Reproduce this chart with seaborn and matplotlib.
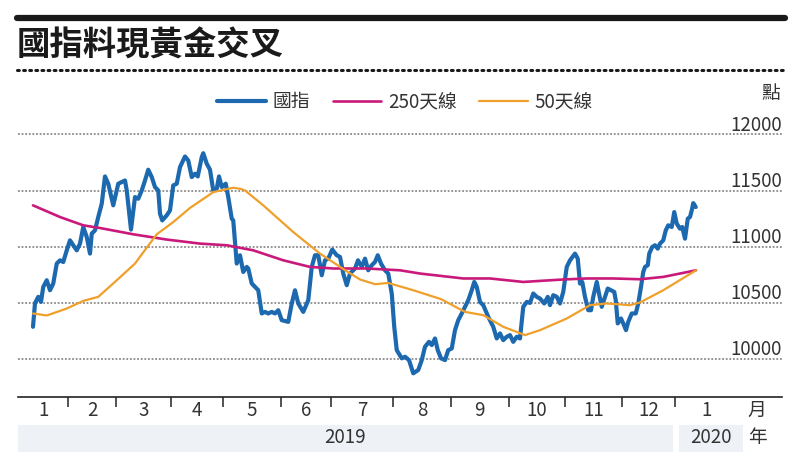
import matplotlib
matplotlib.use("Agg")
import matplotlib.pyplot as plt
import matplotlib.transforms as mtransforms
from matplotlib.lines import Line2D
from matplotlib.patches import Rectangle
import seaborn as sns
import pandas as pd

sns.set_theme(style="white")
plt.rcParams['font.family'] = ['Noto Sans CJK TC', 'DejaVu Sans']

# ---------------- data (trading-day index, index points) ----------------
hsce_day = [0, 0.8, 2.1, 3.2, 4.1, 5.5, 6.8, 8.1, 9.5, 10.8,
            12.1, 13.5, 14.8, 16.1, 17.5, 18.8, 20.1, 21.5, 22.8, 23.5,
            24.8, 26.1, 27.5, 28.8, 30.1, 32.1, 34.1, 36.8, 37.5, 39.2,
            40.8, 42.1, 43.5, 44.8, 46.1, 47.5, 48.8, 50.1, 50.8, 51.7,
            53.5, 54.8, 56.1, 57.5, 58.8, 60.8, 62.1, 63.5, 64.8, 65.9,
            67.5, 68.1, 69.5, 70.8, 72.1, 73.5, 74.4, 75.5, 77.1, 78.1,
            79.5, 80.1, 81.5, 82.8, 84.1, 85.5, 86.1, 87.5, 88.8, 90.1,
            91.5, 92.8, 94.1, 95.5, 96.8, 98.1, 99.5, 102.1, 103.5, 104.8,
            106.1, 108.1, 110.1, 111.5, 112.8, 114.1, 115.5, 116.8, 118.1, 119.7,
            121.5, 122.8, 124.1, 125.5, 126.8, 128.8, 130.0, 131.5, 132.8, 134.1,
            135.5, 136.8, 137.9, 139.2, 140.8, 142.1, 143.5, 144.5, 145.5, 147.5,
            148.8, 150.4, 152.1, 154.1, 155.5, 156.8, 158.4, 159.5, 160.8, 161.9,
            163.2, 164.8, 166.1, 167.5, 168.8, 170.1, 171.5, 174.1, 175.5, 176.5,
            177.5, 178.8, 180.1, 182.1, 184.1, 185.5, 186.8, 188.1, 189.5, 190.8,
            192.1, 193.5, 194.8, 196.1, 197.5, 198.8, 200.1, 201.5, 202.8, 204.5,
            205.9, 206.8, 208.1, 209.5, 210.8, 212.1, 213.5, 214.8, 216.8, 217.9,
            218.8, 219.7, 220.8, 222.1, 223.2, 224.1, 225.5, 226.4, 227.5, 228.8,
            229.9, 231.2, 232.5, 233.1, 233.9, 235.2, 236.1, 237.2, 238.1, 239.5,
            241.1, 242.1, 243.2, 244.1, 244.8, 245.9, 246.5, 247.7, 248.8, 249.9,
            250.8, 252.1, 253.1, 254.1, 255.5, 256.5, 257.5, 258.8, 259.7, 260.8,
            261.9, 262.8, 263.5, 264.1, 265.1]
hsce_val = [10285, 10496, 10552, 10507, 10641, 10700, 10611, 10671, 10849, 10878,
            10863, 10967, 11056, 11012, 10967, 11027, 11175, 11086, 10938, 11116,
            11145, 11264, 11383, 11626, 11561, 11368, 11561, 11590, 11501, 11152,
            11442, 11427, 11501, 11590, 11686, 11620, 11531, 11501, 11294, 11234,
            11279, 11323, 11546, 11561, 11709, 11804, 11768, 11620, 11650, 11626,
            11798, 11833, 11739, 11686, 11501, 11516, 11626, 11531, 11561, 11442,
            11249, 11234, 10849, 10923, 10774, 10819, 10805, 10671, 10641, 10611,
            10404, 10418, 10404, 10418, 10404, 10433, 10344, 10329, 10493, 10611,
            10493, 10418, 10522, 10819, 10923, 10923, 10745, 10878, 10893, 10974,
            10923, 10908, 10760, 10656, 10760, 10805, 10878, 10819, 10893, 10789,
            10834, 10863, 10923, 10849, 10789, 10760, 10582, 10285, 10077, 10004,
            10018, 9988, 9870, 9900, 9988, 10107, 10151, 10122, 10181, 10077,
            10004, 9988, 10077, 10092, 10255, 10344, 10404, 10522, 10611, 10685,
            10641, 10507, 10478, 10374, 10285, 10181, 10226, 10166, 10196, 10211,
            10151, 10196, 10181, 10463, 10507, 10498, 10582, 10552, 10537, 10493,
            10552, 10478, 10567, 10552, 10493, 10596, 10819, 10878, 10938, 10893,
            10671, 10685, 10552, 10433, 10433, 10552, 10685, 10582, 10463, 10552,
            10626, 10611, 10596, 10522, 10315, 10359, 10315, 10255, 10329, 10404,
            10404, 10493, 10641, 10774, 10819, 10834, 10938, 10997, 11012, 10982,
            11027, 11056, 11145, 11190, 11175, 11308, 11205, 11160, 11175, 11071,
            11249, 11264, 11323, 11388, 11353]

ma250_day = [0, 10.8, 20.1, 26.8, 40.1, 53.5, 66.8, 77.5, 88.1, 100.1, 110.8,
             120.1, 133.5, 146.8, 154.8, 172.1, 182.8, 196.1, 212.1, 221.5,
             232.1, 242.8, 252.1, 258.8, 265.2]
ma250_val = [11368, 11264, 11190, 11166, 11110, 11063, 11027, 11012, 10967, 10878,
             10819, 10805, 10805, 10789, 10760, 10716, 10716, 10685, 10707, 10716,
             10716, 10709, 10730, 10760, 10789]

ma50_day = [0, 5.5, 13.5, 20.1, 26.1, 33.5, 40.8, 42.8, 49.5, 56.1, 62.8, 72.1,
            80.1, 82.8, 84.8, 92.1, 98.1, 104.1, 111.5, 114.8, 125.5, 130.8,
            136.8, 142.1, 152.1, 163.2, 172.8, 180.1, 188.1, 196.8, 202.8, 213.5,
            222.8, 229.5, 238.8, 242.8, 252.1, 265.2]
ma50_val = [10404, 10386, 10448, 10516, 10552, 10700, 10849, 10910, 11110, 11219,
            11345, 11486, 11525, 11516, 11501, 11368, 11249, 11130, 10997, 10938,
            10780, 10707, 10665, 10676, 10611, 10532, 10418, 10389, 10285, 10211,
            10255, 10359, 10478, 10493, 10478, 10502, 10611, 10789]

month_bounds = [-6, 14.2, 33.2, 55.4, 76.1, 99.2, 119.4, 144.0, 167.2,
                190.3, 213.0, 235.7, 256.9, 282]
month_labels = ['1', '2', '3', '4', '5', '6', '7', '8', '9', '10', '11', '12', '1']
y_ticks = [10000, 10500, 11000, 11500, 12000]
years = ['2019', '2020']
series_names = ['國指', '250天線', '50天線']

# ---------------- figure ----------------
fig = plt.figure(figsize=(8.04, 4.59), dpi=100)
W, H = 804, 459
ax = fig.add_axes([18 / W, 1 - 397 / H, (782 - 18) / W, (397 - 130) / H])

c_blue, c_pink, c_orange = '#1c69b0', '#c9197b', '#f0a02a'

df_b = pd.DataFrame({'day': hsce_day, 'val': hsce_val})
df_p = pd.DataFrame({'day': ma250_day, 'val': ma250_val})
df_o = pd.DataFrame({'day': ma50_day, 'val': ma50_val})

for yt in y_ticks:
    ax.axhline(yt, color='#8a8a8a', lw=1.3, ls=(0, (1, 1)), zorder=0)

sns.lineplot(data=df_b, x='day', y='val', ax=ax, color=c_blue, lw=3.0,
             estimator=None, sort=False, label=series_names[0], zorder=3)
sns.lineplot(data=df_p, x='day', y='val', ax=ax, color=c_pink, lw=1.9,
             estimator=None, sort=False, label=series_names[1], zorder=4)
sns.lineplot(data=df_o, x='day', y='val', ax=ax, color=c_orange, lw=1.6,
             estimator=None, sort=False, label=series_names[2], zorder=5)

ax.set_xlim(-6, 299.6)
ax.set_ylim(9659, 12040)
ax.set_xlabel('')
ax.set_ylabel('')
for s in ['top', 'left', 'right']:
    ax.spines[s].set_visible(False)
ax.spines['bottom'].set_color('#222222')
ax.spines['bottom'].set_linewidth(1.2)
ax.set_yticks([])
ax.set_xticks(month_bounds[1:-1])
ax.set_xticklabels([])
ax.tick_params(axis='x', direction='out', length=7, width=1.1, color='#222222', bottom=True)

# y labels sitting on gridlines
trans_y = mtransforms.blended_transform_factory(ax.transAxes, ax.transData)
trans_y = mtransforms.offset_copy(trans_y, fig=fig, x=0, y=2.5, units='points')
for yt in y_ticks:
    ax.text(1.0, yt, str(yt), transform=trans_y, ha='right', va='baseline',
            fontsize=13.5, color='#333333')

# month labels
trans_x = mtransforms.blended_transform_factory(ax.transData, ax.transAxes)
for i, lab in enumerate(month_labels):
    cx = (month_bounds[i] + month_bounds[i + 1]) / 2
    ax.text(cx, -0.052, lab, transform=trans_x, ha='center', va='center',
            fontsize=13.5, color='#333333')
ax.text(289.6, -0.052, '月', transform=trans_x, ha='center', va='center',
        fontsize=13.5, color='#333333')

# year bands
band_kw = dict(transform=trans_x, clip_on=False, color='#eef2f6', lw=0, zorder=0)
ax.add_patch(Rectangle((-6, -0.205), 256.0 + 6, 0.1, **band_kw))
ax.add_patch(Rectangle((258.4, -0.205), 284.0 - 258.4, 0.1, **band_kw))
ax.text((-6 + 256.0) / 2, -0.152, years[0], transform=trans_x, ha='center', va='center',
        fontsize=13.5, color='#333333')
ax.text((258.4 + 284.0) / 2, -0.152, years[1], transform=trans_x, ha='center', va='center',
        fontsize=13.5, color='#333333')
ax.text(289.6, -0.152, '年', transform=trans_x, ha='center', va='center',
        fontsize=13.5, color='#333333')

# legend
leg = ax.legend(loc='center', bbox_to_anchor=(405 / W, 1 - 102 / H),
                bbox_transform=fig.transFigure, ncol=3, frameon=False,
                fontsize=13.5, handlelength=2.6, handletextpad=0.35,
                columnspacing=1.2, borderpad=0)
for t in leg.get_texts():
    t.set_color('#333333')

# unit
fig.text(771 / W, 1 - 94 / H, '點', ha='center', va='center', fontsize=13.5, color='#333333')

# header
fig.add_artist(Line2D([17 / W, 785 / W], [1 - 17.5 / H, 1 - 17.5 / H], color='#1a1a1a', lw=4.5))
fig.add_artist(Line2D([17 / W, 785 / W], [1 - 70 / H, 1 - 70 / H], color='#1a1a1a',
                      lw=2.2, ls=(0, (0.6, 1.4)), dash_capstyle='round'))
fig.text(17 / W, 1 - 46 / H, '國指料現黃金交叉', ha='left', va='center',
         fontsize=24, fontweight='bold', color='#1a1a1a')

fig.savefig('out.png', dpi=100, facecolor='white')
